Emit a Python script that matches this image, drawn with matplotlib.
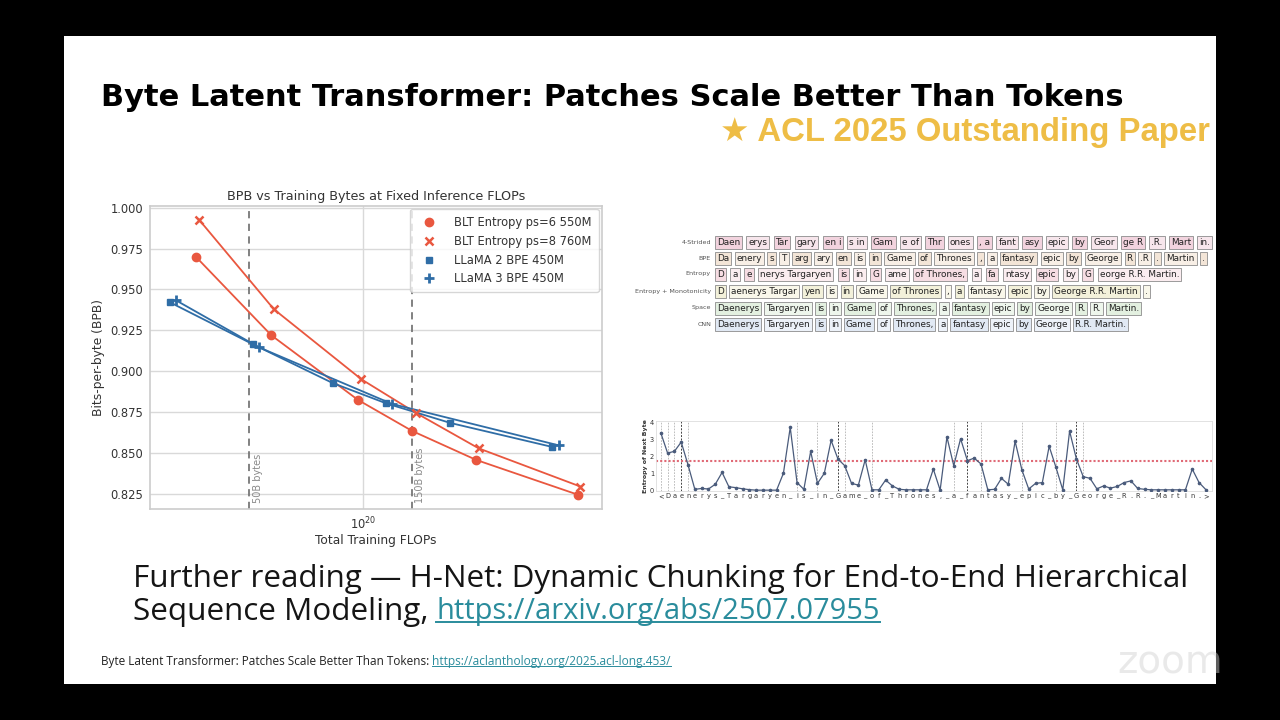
import numpy as np
import matplotlib
matplotlib.use("Agg")
import matplotlib.pyplot as plt
from matplotlib.patches import Rectangle
from matplotlib.ticker import NullLocator, FixedLocator, FormatStrFormatter

# ---------------- dados do gráfico principal ----------------
flops_ps6 = [3.22e19, 5.37e19, 9.66e19, 1.395e20, 2.153e20, 4.295e20]
bpb_ps6 = [0.970, 0.922, 0.8825, 0.8635, 0.8458, 0.8245]

flops_ps8 = [3.289e19, 5.465e19, 9.886e19, 1.432e20, 2.188e20, 4.365e20]
bpb_ps8 = [0.9927, 0.9379, 0.8951, 0.8745, 0.8529, 0.8295]

flops_llama2 = [2.704e19, 4.738e19, 8.139e19, 1.169e20, 1.807e20, 3.61e20]
bpb_llama2 = [0.9421, 0.9165, 0.8928, 0.8804, 0.8684, 0.8537]

flops_llama3 = [2.812e19, 4.943e19, 1.218e20, 3.767e20]
bpb_llama3 = [0.9434, 0.9146, 0.8800, 0.8547]

series_labels = ["BLT Entropy ps=6 550M", "BLT Entropy ps=8 760M",
                 "LLaMA 2 BPE 450M", "LLaMA 3 BPE 450M"]

bytes_marks = [4.63e19, 1.389e20]
bytes_labels = ["50B bytes", "150B bytes"]

yticks_main = [0.825, 0.850, 0.875, 0.900, 0.925, 0.950, 0.975, 1.000]

# ---------------- tabela de segmentação ----------------
seg_rows = ["4-Strided", "BPE", "Entropy", "Entropy + Monotonicity", "Space", "CNN"]
seg_tokens = [
    ["Daen", "erys", "Tar", "gary", "en i", "s in", "Gam", "e of", "Thr", "ones",
     ", a", "fant", "asy", "epic", "by", "Geor", "ge R", ".R.", "Mart", "in."],
    ["Da", "enery", "s", "T", "arg", "ary", "en", "is", "in", "Game", "of", "Thrones",
     ",", "a", "fantasy", "epic", "by", "George", "R", ".R", ".", "Martin", "."],
    ["D", "a", "e", "nerys Targaryen", "is", "in", "G", "ame", "of Thrones,", "a",
     "fa", "ntasy", "epic", "by", "G", "eorge R.R. Martin."],
    ["D", "aenerys Targar", "yen", "is", "in", "Game", "of Thrones", ",", "a",
     "fantasy", "epic", "by", "George R.R. Martin", "."],
    ["Daenerys", "Targaryen", "is", "in", "Game", "of", "Thrones,", "a", "fantasy",
     "epic", "by", "George", "R.", "R.", "Martin."],
    ["Daenerys", "Targaryen", "is", "in", "Game", "of", "Thrones,", "a", "fantasy",
     "epic", "by", "George", "R.R. Martin."],
]
seg_colors = [("#f2d3de", "#f7e6ec"), ("#f3e5d7", "#f8efe6"), ("#f6dde3", "#fbedf0"),
              ("#f3f1da", "#f9f7ea"), ("#e3f0e0", "#eef6ec"), ("#e1e9f4", "#edf2f9")]

# ---------------- entropia por byte ----------------
byte_chars = list("<Daenerys_Targaryen_is_in_Game_of_Thrones,_a_fantasy_epic_by_George_R.R._Martin.>")
entropy_vals = [3.4, 2.2, 2.3, 2.85, 1.5, 0.05, 0.1, 0.07, 0.35, 1.05,
                0.2, 0.15, 0.08, 0.03, 0.0, 0.0, 0.0, 0.0, 1.0, 3.72,
                0.45, 0.05, 2.3, 0.4, 1.0, 2.95, 1.85, 1.45, 0.4, 0.3,
                1.8, 0.02, 0.02, 0.6, 0.25, 0.05, 0.02, 0.02, 0.02, 0.02,
                1.25, 0.0, 3.15, 1.45, 3.05, 1.75, 1.9, 1.55, 0.02, 0.05,
                0.7, 0.35, 2.9, 1.2, 0.07, 0.4, 0.45, 2.6, 1.35, 0.02,
                3.5, 1.85, 0.8, 0.7, 0.08, 0.25, 0.12, 0.22, 0.45, 0.55,
                0.1, 0.05, 0.02, 0.02, 0.02, 0.02, 0.02, 0.02, 1.25, 0.45,
                0.03]
patch_starts = [0, 1, 2, 3, 4, 20, 23, 26, 27, 31, 43, 45, 47, 53, 58, 61, 62]
patch_strong = [3, 26, 45, 61]
entropy_thresh = 1.75

# ---------------- textos do slide ----------------
slide_title = "Byte Latent Transformer: Patches Scale Better Than Tokens"
slide_badge = "\u2605 ACL 2025 Outstanding Paper"
further_1 = "Further reading \u2014 H-Net: Dynamic Chunking for End-to-End Hierarchical"
further_2 = "Sequence Modeling,"
further_link = "https://arxiv.org/abs/2507.07955"
footer_txt = "Byte Latent Transformer: Patches Scale Better Than Tokens:"
footer_link = "https://aclanthology.org/2025.acl-long.453/"

red = "#e9573f"
blue = "#2f6da6"
teal = "#2a8c9c"

# ---------------- figura / fundo ----------------
fig = plt.figure(figsize=(12.8, 7.2), dpi=100, facecolor="black")
bg = fig.add_axes([0, 0, 1, 1])
bg.set_xlim(0, 1280)
bg.set_ylim(720, 0)
bg.axis("off")
bg.add_patch(Rectangle((64, 36), 1152, 648, facecolor="white", edgecolor="none"))
renderer = fig.canvas.get_renderer()


def text_width(t):
    return t.get_window_extent(renderer).width


def fit_width(t, target):
    t.set_fontsize(t.get_fontsize() * target / text_width(t))


def underline(t, color, lw=1.2):
    bb = t.get_window_extent(renderer)
    y = 720 - (bb.y0 + bb.height * 0.15)
    bg.plot([bb.x0, bb.x1], [y, y], color=color, lw=lw)


t = bg.text(101, 97, slide_title, ha="left", va="center", fontsize=21,
            fontweight="bold", color="black")
fit_width(t, 1024)

t = bg.text(1210, 133, slide_badge, ha="right", va="center", fontsize=18,
            fontweight="bold", color="#eebd46", family=["Liberation Sans", "DejaVu Sans"])
fit_width(t, 490)

t1 = bg.text(133, 578, further_1, ha="left", va="center", fontsize=19,
             color="#151515", family="Open Sans")
fit_width(t1, 1054)
fs_f = t1.get_fontsize()
t2 = bg.text(133, 612, further_2, ha="left", va="center", fontsize=fs_f,
             color="#151515", family="Open Sans")
x_link = t2.get_window_extent(renderer).x1 + fs_f * 0.35
t3 = bg.text(x_link, 612, further_link, ha="left", va="center", fontsize=fs_f,
             color=teal, family="Open Sans")
fit_width(t3, 880 - x_link)
underline(t3, teal, 1.4)

t4 = bg.text(101, 661, footer_txt, ha="left", va="center", fontsize=8,
             color="#222222", family="Open Sans")
fit_width(t4, 330)
x_link = t4.get_window_extent(renderer).x1 + 3
t5 = bg.text(x_link, 661, footer_link, ha="left", va="center", fontsize=8,
             color=teal, family="Open Sans")
fit_width(t5, 672 - x_link)
underline(t5, teal, 0.7)

bg.text(1170, 662, "zoom", ha="center", va="center", fontsize=28,
        color="#d0d0d0", alpha=0.45)

# ---------------- tabela de segmentação ----------------
seg_label_x = 711
seg_start_x = 715
seg_row_y = [242, 258, 274, 291, 308, 324]
seg_row_end = [1212, 1207, 1181, 1150, 1141, 1128]
pad = 2.0

for label, toks, cols, y, x_end in zip(seg_rows, seg_tokens, seg_colors, seg_row_y, seg_row_end):
    bg.text(seg_label_x, y, label, ha="right", va="center", fontsize=4.6, color="#555555")
    fs = 6.4
    texts = [bg.text(0, y, tok, ha="left", va="center", fontsize=fs, color="#222222", zorder=3)
             for tok in toks]
    w = [text_width(tt) + 2 * pad for tt in texts]
    gap = (x_end - seg_start_x - sum(w)) / (len(toks) - 1)
    while gap < 1.5 and fs > 4:
        fs -= 0.2
        for tt in texts:
            tt.set_fontsize(fs)
        w = [text_width(tt) + 2 * pad for tt in texts]
        gap = (x_end - seg_start_x - sum(w)) / (len(toks) - 1)
    x = seg_start_x
    for k, (tt, wk) in enumerate(zip(texts, w)):
        bg.add_patch(Rectangle((x, y - 6.5), wk, 13, facecolor=cols[k % 2],
                               edgecolor="#8c8c8c", lw=0.6, zorder=2))
        tt.set_position((x + pad, y + 0.5))
        x += wk + gap

# ---------------- gráfico principal ----------------
ax = fig.add_axes([150 / 1280, (720 - 509) / 720, 452 / 1280, 303.3 / 720])
ax.set_facecolor("white")
ax.set_xscale("log")
ax.plot(flops_ps6, bpb_ps6, color=red, lw=1.3, zorder=3)
ax.plot(flops_ps8, bpb_ps8, color=red, lw=1.3, zorder=3)
ax.plot(flops_llama2, bpb_llama2, color=blue, lw=1.3, zorder=3)
ax.plot(flops_llama3, bpb_llama3, color=blue, lw=1.3, zorder=3)
ax.plot(flops_ps6, bpb_ps6, "o", color=red, ms=6, ls="none", label=series_labels[0], zorder=4)
ax.plot(flops_ps8, bpb_ps8, "x", color=red, ms=5.5, mew=1.8, ls="none", label=series_labels[1], zorder=4)
ax.plot(flops_llama2, bpb_llama2, "s", color=blue, ms=4.3, ls="none", label=series_labels[2], zorder=4)
ax.plot(flops_llama3, bpb_llama3, "+", color=blue, ms=7, mew=2, ls="none", label=series_labels[3], zorder=4)

for xb, lab in zip(bytes_marks, bytes_labels):
    ax.axvline(xb, color="#777777", ls=(0, (4, 3)), lw=1.3, zorder=2)
    ax.text(xb * 1.025, 0.8195, lab, rotation=90, fontsize=7, color="#8a8a8a",
            ha="left", va="bottom")

ax.set_xlim(2.36e19, 5.05e20)
ax.set_ylim(0.8158, 1.0012)
ax.yaxis.set_major_locator(FixedLocator(yticks_main))
ax.yaxis.set_major_formatter(FormatStrFormatter("%.3f"))
ax.xaxis.set_major_locator(FixedLocator([1e20]))
ax.xaxis.set_minor_locator(NullLocator())
ax.grid(True, color="#d9d9d9", lw=1.0)
ax.set_axisbelow(True)
ax.tick_params(length=0, labelsize=8.3, labelcolor="#333333", pad=5)
for s in ax.spines.values():
    s.set_color("#cccccc")
    s.set_linewidth(1.2)
ax.set_title("BPB vs Training Bytes at Fixed Inference FLOPs", fontsize=9.2,
             color="#333333", pad=4)
ax.set_xlabel("Total Training FLOPs", fontsize=8.8, color="#333333", labelpad=1)
ax.set_ylabel("Bits-per-byte (BPB)", fontsize=8.8, color="#333333", labelpad=4)
leg = ax.legend(loc="upper right", fontsize=8.3, frameon=True, borderaxespad=0.3,
                labelspacing=0.5, handletextpad=1.2, borderpad=0.6)
leg.get_frame().set_edgecolor("#cccccc")
leg.get_frame().set_linewidth(1.0)
for tx in leg.get_texts():
    tx.set_color("#333333")

# ---------------- entropia ----------------
ax2 = fig.add_axes([656 / 1280, 229 / 720, 556 / 1280, 70 / 720])
xs = np.arange(len(byte_chars))
for p in patch_starts:
    strong = p in patch_strong
    ax2.axvline(p, color="#444444" if strong else "#b3b3b3", ls=(0, (2, 1.5)),
                lw=0.7 if strong else 0.6, zorder=1)
ax2.axhline(entropy_thresh, color="#e06a76", ls=(0, (1, 1)), lw=1.5, zorder=2)
ax2.plot(xs, entropy_vals, color="#4a5b7b", lw=0.9, marker="o", ms=1.6, zorder=3)
ax2.set_xlim(-0.7, 80.9)
ax2.set_ylim(-0.05, 4.1)
ax2.set_xticks(xs)
ax2.set_xticklabels(byte_chars)
ax2.set_yticks(range(5))
ax2.tick_params(length=0, labelsize=4.8, labelcolor="#333333", pad=1.5)
ax2.set_ylabel("Entropy of Next Byte", fontsize=4.5, fontweight="bold",
               color="#333333", labelpad=1.5)
for s in ax2.spines.values():
    s.set_color("#dddddd")
    s.set_linewidth(0.6)

fig.savefig("out.png", dpi=100, facecolor=fig.get_facecolor())
